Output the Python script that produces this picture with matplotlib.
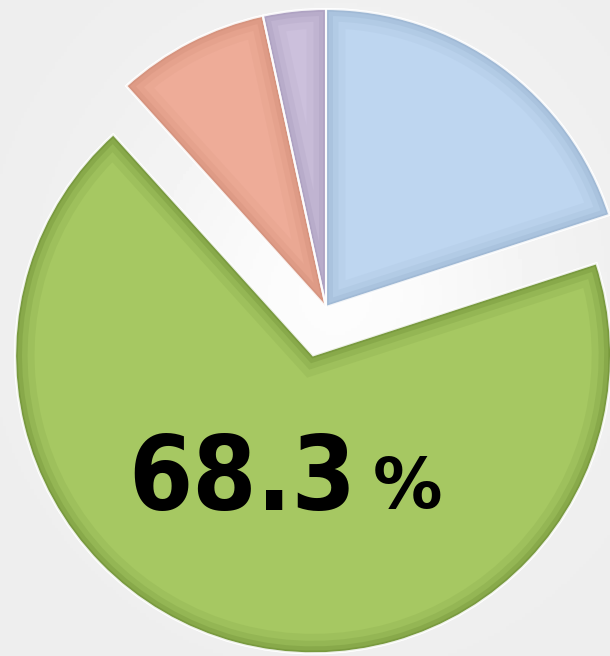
import matplotlib.pyplot as plt
import numpy as np
from matplotlib.patches import PathPatch

# slices, clockwise from 12 o'clock
labels = ['blue', 'green', 'salmon', 'lavender']
values = [20.0, 68.3, 8.3, 3.4]
colors = ['#BED6F0', '#A6C862', '#EEAC98', '#CCC0DC']
rims = ['#8FA9C6', '#5E7F2A', '#C98670', '#9E90B4']
explode = [0, 50, 0, 0]  # pie() takes this in data units here
big_label = '68.3'
unit = '%'

fig = plt.figure(figsize=(6.1, 6.56), dpi=100)
ax = fig.add_axes([0, 0, 1, 1])

# soft grey background with a lighter middle
yy, xx = np.mgrid[0:1:200j, 0:1:200j]
bg = 0.93 + 0.06 * np.exp(-((xx - 0.55) ** 2 + (yy - 0.45) ** 2) / 0.12)
ax.imshow(bg, cmap='gray', vmin=0, vmax=1, extent=(0, 610, 0, 656), zorder=0)

wedges, _ = ax.pie(values, colors=colors, startangle=90, counterclock=False,
                   explode=explode, center=(326, 349), radius=298, frame=True,
                   wedgeprops=dict(edgecolor='white', linewidth=1.5))
ax.set_xlim(0, 610)
ax.set_ylim(0, 656)
ax.set_aspect('equal')
ax.axis('off')

# fake bevel: stacked rims clipped to each wedge
for w, rc in zip(wedges, rims):
    w.set_zorder(2)
    for lw, a in [(28, 0.10), (18, 0.15), (10, 0.22), (4, 0.35)]:
        p = PathPatch(w.get_path(), transform=w.get_transform(), fill=False,
                      edgecolor=rc, linewidth=lw, alpha=a, zorder=3)
        p.set_clip_path(w)
        ax.add_patch(p)
    hl = PathPatch(w.get_path(), transform=w.get_transform(), fill=False,
                   edgecolor='white', linewidth=1.5, alpha=0.8, zorder=4)
    ax.add_patch(hl)

ax.text(128, 146, big_label, fontsize=74, fontweight='bold',
        family='DejaVu Sans', fontstretch='condensed', ha='left', va='baseline', zorder=5)
ax.text(373, 148, unit, fontsize=50, fontweight='bold',
        family='DejaVu Sans', ha='left', va='baseline', zorder=5)

fig.savefig('out.png', dpi=100)
